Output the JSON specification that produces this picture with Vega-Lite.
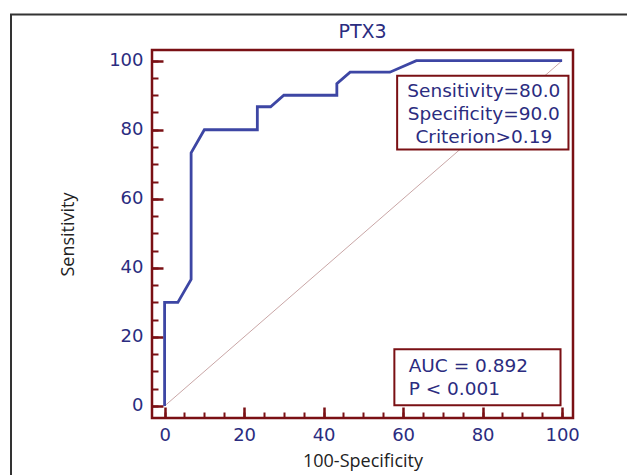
{
  "$schema": "https://vega.github.io/schema/vega-lite/v6.json",
  "width": 421,
  "height": 368,
  "autosize": {"type": "none"},
  "padding": {"left": 152, "top": 50, "right": 54, "bottom": 57},
  "background": "white",
  "title": {"text": "PTX3", "font": "DejaVu Sans", "fontSize": 19, "fontWeight": "normal", "color": "#2b2c80", "baseline": "alphabetic", "offset": 12, "dy": 55.8, "anchor": "middle", "frame": "group"},
  "config": {"view": {"stroke": "#7a1014", "strokeWidth": 2.5}},
  "datasets": {
    "roc": [
      {"fpr": 0, "sens": 0},
      {"fpr": 0, "sens": 30},
      {"fpr": 3.33, "sens": 30},
      {"fpr": 6.67, "sens": 36.67},
      {"fpr": 6.67, "sens": 73.33},
      {"fpr": 10, "sens": 80},
      {"fpr": 23.33, "sens": 80},
      {"fpr": 23.33, "sens": 86.67},
      {"fpr": 26.67, "sens": 86.67},
      {"fpr": 30, "sens": 90},
      {"fpr": 43.33, "sens": 90},
      {"fpr": 43.33, "sens": 93.33},
      {"fpr": 46.67, "sens": 96.67},
      {"fpr": 56.67, "sens": 96.67},
      {"fpr": 63.33, "sens": 100},
      {"fpr": 100, "sens": 100}
    ],
    "diag": [{"x": 0, "y": 0}, {"x": 100, "y": 100}],
    "one": [{}]
  },
  "resolve": {"axis": {"x": "independent", "y": "independent"}},
  "layer": [
    {
      "data": {"name": "one"},
      "mark": {"type": "rect", "fillOpacity": 0, "stroke": "#333333", "strokeWidth": 2, "clip": false},
      "encoding": {
        "x": {"datum": -38.64, "type": "quantitative", "axis": null, "scale": {"domain": [-3.17, 102.74], "nice": false, "zero": false}},
        "x2": {"datum": 200},
        "y": {"datum": 113.4, "type": "quantitative", "axis": null, "scale": {"domain": [-3.48, 103.1], "nice": false, "zero": false}},
        "y2": {"datum": -50}
      }
    },
    {
      "data": {"name": "diag"},
      "mark": {"type": "line", "color": "#c9a6a6", "strokeWidth": 1},
      "encoding": {
        "x": {"field": "x", "type": "quantitative", "scale": {"domain": [-3.17, 102.74], "nice": false, "zero": false},
          "axis": {"orient": "bottom", "values": [0,5,10,15,20,25,30,35,40,45,50,55,60,65,70,75,80,85,90,95,100], "tickSize": -6, "tickWidth": 2, "tickColor": "#7a1014", "labels": false, "domain": false, "grid": false, "title": null}},
        "y": {"field": "y", "type": "quantitative", "scale": {"domain": [-3.48, 103.1], "nice": false, "zero": false},
          "axis": {"orient": "left", "values": [0,5,10,15,20,25,30,35,40,45,50,55,60,65,70,75,80,85,90,95,100], "tickSize": -6, "tickWidth": 2, "tickColor": "#7a1014", "labels": false, "domain": false, "grid": false, "title": null}}
      }
    },
    {
      "data": {"name": "roc"},
      "mark": {"type": "line", "color": "#3d46a4", "strokeWidth": 2.8},
      "encoding": {
        "x": {"field": "fpr", "type": "quantitative", "scale": {"domain": [-3.17, 102.74], "nice": false, "zero": false},
          "axis": {"orient": "bottom", "values": [0,20,40,60,80,100], "tickSize": -11, "tickWidth": 2.5, "tickColor": "#7a1014", "labelFont": "DejaVu Sans", "labelFontSize": 18, "labelColor": "#2b2c80", "labelPadding": 19, "labelFlush": false, "labelOverlap": false, "domain": false, "grid": false,
            "title": "100-Specificity", "titleFont": "Open Sans", "titleFontSize": 18, "titleFontWeight": "normal", "titleColor": "#222222", "titleY": 48, "titleBaseline": "alphabetic"}},
        "y": {"field": "sens", "type": "quantitative", "scale": {"domain": [-3.48, 103.1], "nice": false, "zero": false},
          "axis": {"orient": "left", "values": [0,20,40,60,80,100], "tickSize": -11, "tickWidth": 2.5, "tickColor": "#7a1014", "labelFont": "DejaVu Sans", "labelFontSize": 18, "labelColor": "#2b2c80", "labelPadding": 20, "labelFlush": false, "labelOverlap": false, "domain": false, "grid": false,
            "title": "Sensitivity", "titleFont": "Open Sans", "titleFontSize": 18, "titleFontWeight": "normal", "titleColor": "#222222", "titleX": -79, "titleY": 184, "titleAngle": -90, "titleAlign": "center", "titleBaseline": "alphabetic"}},
        "order": {"value": null}
      }
    },
    {
      "data": {"name": "one"},
      "mark": {"type": "rect", "fill": "white", "stroke": "#7a1014", "strokeWidth": 2},
      "encoding": {
        "x": {"datum": 58.5, "type": "quantitative", "axis": null},
        "x2": {"datum": 101.6},
        "y": {"datum": 95.65, "type": "quantitative", "axis": null},
        "y2": {"datum": 74.3}
      }
    },
    {
      "data": {"name": "one"},
      "mark": {"type": "rect", "fill": "white", "stroke": "#7a1014", "strokeWidth": 2},
      "encoding": {
        "x": {"datum": 57.8, "type": "quantitative", "axis": null},
        "x2": {"datum": 99.6},
        "y": {"datum": 16.4, "type": "quantitative", "axis": null},
        "y2": {"datum": 0.2}
      }
    },
    {
      "data": {"name": "one"},
      "mark": {"type": "text", "text": ["Sensitivity=80.0", "Specificity=90.0", "Criterion>0.19"], "font": "DejaVu Sans", "fontSize": 18.5, "color": "#2b2c80", "align": "center", "baseline": "alphabetic", "lineHeight": 22.8},
      "encoding": {
        "x": {"datum": 80.3, "type": "quantitative", "axis": null},
        "y": {"datum": 89.5, "type": "quantitative", "axis": null}
      }
    },
    {
      "data": {"name": "one"},
      "mark": {"type": "text", "text": ["AUC = 0.892", "P < 0.001"], "font": "DejaVu Sans", "fontSize": 18.5, "color": "#2b2c80", "align": "left", "baseline": "alphabetic", "lineHeight": 23.3},
      "encoding": {
        "x": {"datum": 61.4, "type": "quantitative", "axis": null},
        "y": {"datum": 9.85, "type": "quantitative", "axis": null}
      }
    }
  ]
}
